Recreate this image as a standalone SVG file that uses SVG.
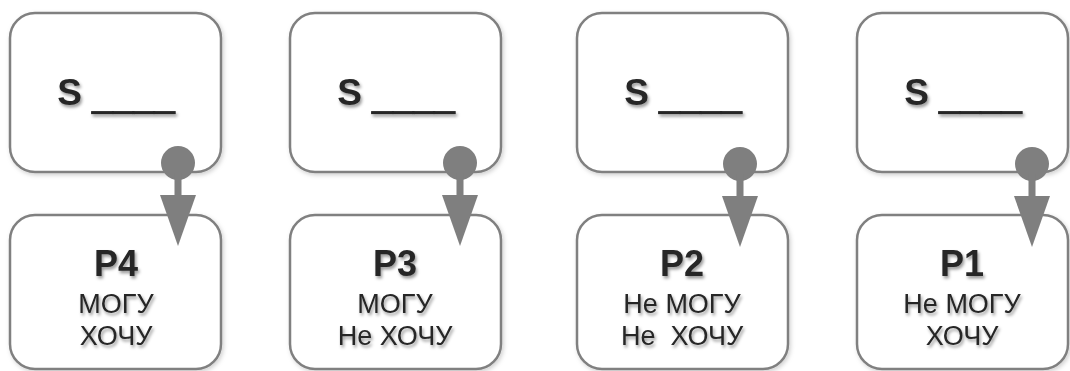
<svg xmlns="http://www.w3.org/2000/svg" width="1070" height="371" viewBox="0 0 1070 371">
  <defs>
    <filter id="boxShadow" x="-10%" y="-10%" width="120%" height="120%">
      <feDropShadow dx="1.5" dy="2" stdDeviation="2" flood-color="#000" flood-opacity="0.18"/>
    </filter>
    <filter id="textShadow" x="-10%" y="-20%" width="120%" height="150%">
      <feDropShadow dx="1.5" dy="2.5" stdDeviation="1.6" flood-color="#000" flood-opacity="0.4"/>
    </filter>
    <!-- pin-and-arrow connector drawn downward from (0,0) -->
    <g id="pin">
      <circle cx="0" cy="0" r="17"/>
      <rect x="-3.5" y="10" width="7" height="24"/>
      <polygon points="-18,32 18,32 0,83"/>
    </g>
  </defs>
  <style>
    .box { fill: #ffffff; stroke: #808080; stroke-width: 2.5; filter: url(#boxShadow); }
    .s { font-family: "Liberation Sans", Arial, sans-serif; font-weight: bold; font-size: 37px; fill: #262626; text-anchor: middle; filter: url(#textShadow); }
    .blank { stroke: #262626; stroke-width: 1.6; }
    .p { font-family: "Liberation Sans", Arial, sans-serif; font-weight: bold; font-size: 36px; fill: #262626; text-anchor: middle; filter: url(#textShadow); }
    .t { font-family: "Liberation Sans", Arial, sans-serif; font-size: 27px; fill: #262626; text-anchor: middle; filter: url(#textShadow); }
    .conn { fill: #7f7f7f; }
  </style>

  <rect width="1070" height="371" fill="#ffffff"/>

  <!-- situation boxes -->
  <g id="s4">
    <rect class="box" x="10" y="13" width="211" height="159" rx="25"/>
    <text class="s" x="116" y="105" xml:space="preserve">S <tspan class="blank" dy="4">____</tspan></text>
  </g>
  <g id="s3">
    <rect class="box" x="290" y="13" width="211" height="159" rx="25"/>
    <text class="s" x="396" y="105" xml:space="preserve">S <tspan class="blank" dy="4">____</tspan></text>
  </g>
  <g id="s2">
    <rect class="box" x="577" y="13" width="211" height="159" rx="25"/>
    <text class="s" x="683" y="105" xml:space="preserve">S <tspan class="blank" dy="4">____</tspan></text>
  </g>
  <g id="s1">
    <rect class="box" x="857" y="13" width="211" height="159" rx="25"/>
    <text class="s" x="963" y="105" xml:space="preserve">S <tspan class="blank" dy="4">____</tspan></text>
  </g>

  <!-- result boxes -->
  <g id="p4">
    <rect class="box" x="10" y="215" width="211" height="154" rx="25"/>
    <text class="p" x="116" y="276">P4</text>
    <text class="t" x="116" y="313">МОГУ</text>
    <text class="t" x="116" y="345">ХОЧУ</text>
  </g>
  <g id="p3">
    <rect class="box" x="290" y="215" width="211" height="154" rx="25"/>
    <text class="p" x="395" y="276">P3</text>
    <text class="t" x="395" y="313">МОГУ</text>
    <text class="t" x="395" y="345">Не ХОЧУ</text>
  </g>
  <g id="p2">
    <rect class="box" x="577" y="215" width="211" height="154" rx="25"/>
    <text class="p" x="682" y="276">P2</text>
    <text class="t" x="682" y="313">Не МОГУ</text>
    <text class="t" x="682" y="345" xml:space="preserve">Не  ХОЧУ</text>
  </g>
  <g id="p1">
    <rect class="box" x="857" y="215" width="211" height="154" rx="25"/>
    <text class="p" x="962" y="276">P1</text>
    <text class="t" x="962" y="313">Не МОГУ</text>
    <text class="t" x="962" y="345">ХОЧУ</text>
  </g>

  <!-- connectors -->
  <g id="connectors" class="conn">
    <use href="#pin" x="178" y="163"/>
    <use href="#pin" x="460" y="163"/>
    <use href="#pin" x="740" y="164"/>
    <use href="#pin" x="1032" y="164"/>
  </g>
</svg>
